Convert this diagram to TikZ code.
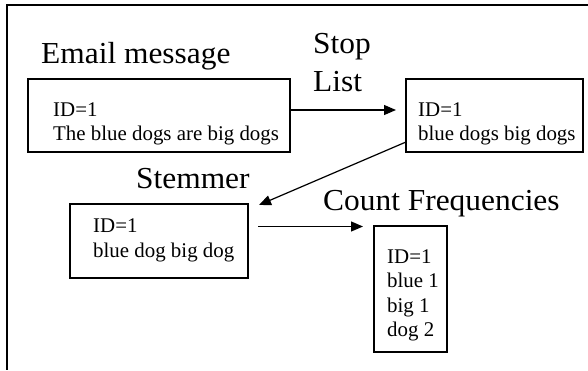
\documentclass[tikz,border=0pt]{standalone}
\usepackage{fontspec}
\setmainfont{Liberation Serif}
\newfontfamily\widetitle[FakeStretch=1.03]{Liberation Serif}
\usetikzlibrary{arrows.meta}
\begin{document}
\begin{tikzpicture}[x=1pt,y=-1pt,
  boxnode/.style={draw, line width=1.2pt, inner sep=0pt, outer sep=0pt},
  title/.style={anchor=base west, inner sep=0pt, font=\widetitle\fontsize{30.5}{36}\selectfont},
  body/.style={anchor=base west, inner sep=0pt, font=\fontsize{20.9}{24}\selectfont},
  arr/.style={line width=1.2pt, -{Triangle[length=12pt,width=10pt]}},
  conn/.style={line width=1.2pt}]
\useasboundingbox (0,0) rectangle (588,370);
% outer frame (partly visible)
\coordinate (ftop) at (588,5);
\coordinate (fcorner) at (7,5);
\coordinate (fbot) at (7,370);
\draw[line width=1.5pt] (ftop) -- (fcorner) -- (fbot);

% titles
\node[title] (t1) at (41,63) {Email message};
\node[title] (t2a) at (313,53) {Stop};
\node[title] (t2b) at (313,91) {List};
\node[title] (t3) at (136,188) {Stemmer};
\node[title] (t4) at (323,210) {Count Frequencies};

% boxes
\node[boxnode, minimum width=262pt, minimum height=73pt] (box1) at (159,115.5) {};
\node[boxnode, minimum width=177pt, minimum height=73pt] (box2) at (494.5,115.5) {};
\node[boxnode, minimum width=178pt, minimum height=74pt] (box3) at (159,241) {};
\node[boxnode, minimum width=73pt, minimum height=126pt] (box4) at (410.5,289) {};

% box texts
\node[body] (b1a) at (53,116) {ID=1};
\node[body] (b1b) at (53,140) {The blue dogs are big dogs};
\node[body] (b2a) at (418,116) {ID=1};
\node[body] (b2b) at (418,140) {blue dogs big dogs};
\node[body] (b3a) at (93,232) {ID=1};
\node[body] (b3b) at (93,257) {blue dog big dog};
\node[body] (b4a) at (387,263) {ID=1};
\node[body] (b4b) at (387,287.5) {blue 1};
\node[body] (b4c) at (387,312) {big 1};
\node[body] (b4d) at (387,336.5) {dog 2};

% connectors
\coordinate (a1end) at (396,110);
\draw[arr] (box1.east |- a1end) -- (a1end);
\coordinate (a2start) at (406,142);
\coordinate (a2end) at (259,205);
\draw[arr] (a2start) -- (a2end);
\coordinate (a3start) at (258,226.5);
\coordinate (a3end) at (363,226.5);
\draw[arr] (a3start) -- (a3end);
\end{tikzpicture}
\end{document}
